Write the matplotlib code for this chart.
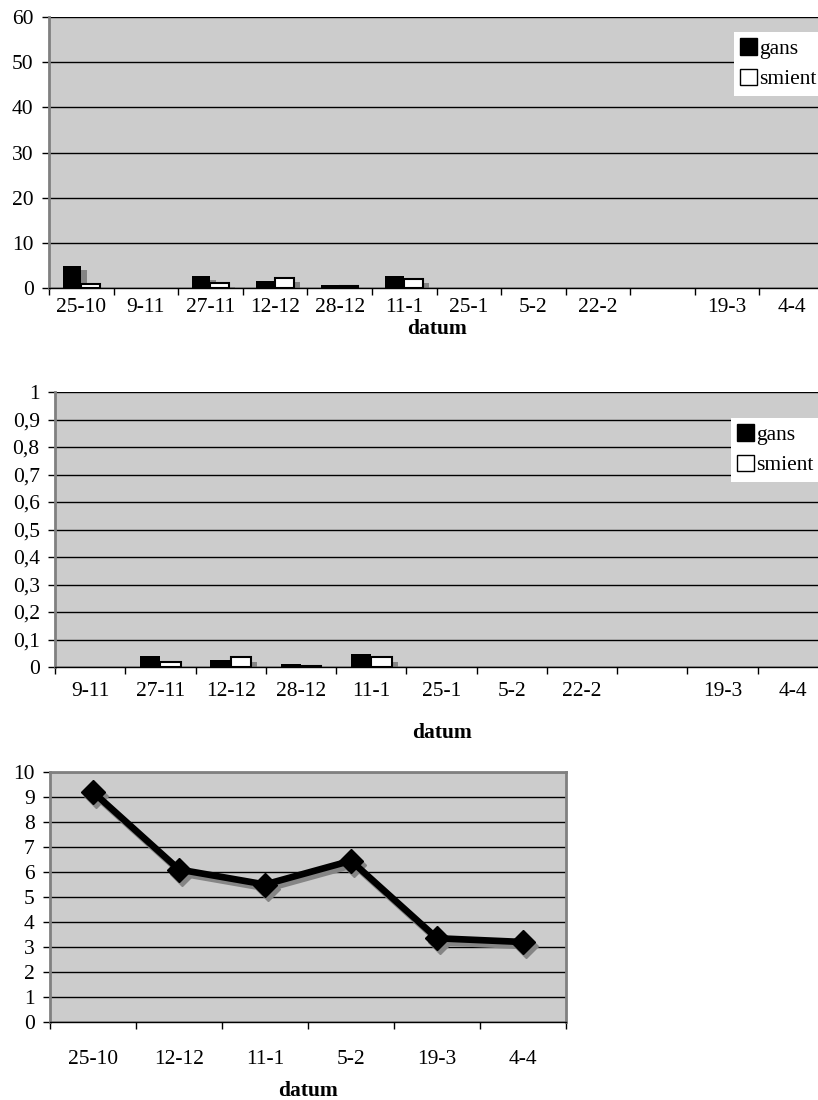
import numpy as np
import matplotlib
matplotlib.use("Agg")
import matplotlib.pyplot as plt
from matplotlib.patches import Patch
from matplotlib.transforms import ScaledTranslation

plt.rcParams["font.family"] = ["Liberation Serif", "DejaVu Serif"]

# counts per survey date
dates_counts = ["25-10", "9-11", "27-11", "12-12", "28-12", "11-1",
                "25-1", "5-2", "22-2", "", "19-3", "4-4"]
gans_counts = [4.9, 0, 2.7, 1.6, 0.7, 2.7, 0, 0, 0, 0, 0, 0]
smient_counts = [0.9, 0, 1.2, 2.3, 0.35, 2.1, 0, 0, 0, 0, 0, 0]

# relative values
dates_rel = ["9-11", "27-11", "12-12", "28-12", "11-1",
             "25-1", "5-2", "22-2", "", "19-3", "4-4"]
gans_rel = [0, 0.04, 0.025, 0.011, 0.047, 0, 0, 0, 0, 0, 0]
smient_rel = [0, 0.017, 0.036, 0.004, 0.036, 0, 0, 0, 0, 0, 0]

# line series
dates_line = ["25-10", "12-12", "11-1", "5-2", "19-3", "4-4"]
values_line = [9.2, 6.1, 5.5, 6.45, 3.35, 3.2]

BG = "#cccccc"
SHADOW = "#858585"
FS = 15.5

fig = plt.figure(figsize=(8.18, 11), dpi=100)


def shifted(ax, dx_px, dy_px):
    return ax.transData + ScaledTranslation(dx_px / 100, dy_px / 100, fig.dpi_scale_trans)


def style_axes(ax, labels, label_pad):
    n = len(labels)
    ax.set_facecolor(BG)
    ax.set_xlim(-0.5, n - 0.5)
    ax.set_xticks(np.arange(n + 1) - 0.5)
    ax.set_xticklabels([])
    ax.set_xticks(np.arange(n), minor=True)
    ax.set_xticklabels(labels, minor=True, fontsize=FS)
    ax.tick_params(axis="x", which="major", length=5, width=1, direction="out")
    ax.tick_params(axis="x", which="minor", length=0, pad=label_pad)
    ax.tick_params(axis="y", length=5, width=1, pad=6, labelsize=FS)
    ax.yaxis.grid(True, color="black", linewidth=1)
    ax.set_axisbelow(True)
    ax.spines["left"].set_color("#808080")
    ax.spines["left"].set_linewidth(2)
    ax.spines["bottom"].set_color("black")
    ax.spines["bottom"].set_linewidth(1)
    ax.spines["top"].set_visible(False)
    ax.spines["right"].set_visible(False)


def bar_pair(ax, gans, smient):
    x = np.arange(len(gans))
    w = 0.29
    for vals, off in ((gans, -w / 2), (smient, w / 2)):
        sh = ax.bar(x + off, vals, w, color=SHADOW, linewidth=0, zorder=2)
        for p in sh:
            p.set_transform(shifted(ax, 6, -4.5))
    ax.bar(x - w / 2, gans, w, color="black", linewidth=0, zorder=3)
    white = ax.bar(x + w / 2, smient, w, color="white", edgecolor="black",
                   linewidth=1.5, zorder=3)
    for p, v in zip(white, smient):
        if v == 0:
            p.set_visible(False)


def add_legend(ax, anchor):
    handles = [Patch(facecolor="black", edgecolor="black"),
               Patch(facecolor="white", edgecolor="black")]
    leg = ax.legend(handles, ["gans", "smient"], loc="upper left",
                    bbox_to_anchor=anchor, bbox_transform=fig.transFigure,
                    fontsize=15.5, handlelength=0.8, handleheight=0.8,
                    handletextpad=0.1, borderpad=0.3, labelspacing=0.45,
                    fancybox=False, framealpha=1)
    leg.get_frame().set_edgecolor("white")
    leg.get_frame().set_linewidth(0)


# top chart
ax1 = fig.add_axes([49 / 818, 1 - 288 / 1100, 775 / 818, 271 / 1100])
bar_pair(ax1, gans_counts, smient_counts)
style_axes(ax1, dates_counts, 7)
ax1.set_ylim(0, 60)
ax1.set_yticks(np.arange(0, 61, 10))
ax1.set_xlabel("datum", fontsize=15.5, fontweight="bold", labelpad=2)
add_legend(ax1, (723 / 818, 1 - 21 / 1100))

# middle chart
ax2 = fig.add_axes([55 / 818, 1 - 667 / 1100, 773 / 818, 275 / 1100])
bar_pair(ax2, gans_rel, smient_rel)
style_axes(ax2, dates_rel, 11)
ax2.set_ylim(0, 1)
ticks = np.round(np.arange(0, 1.01, 0.1), 1)
ax2.set_yticks(ticks)
ax2.set_yticklabels([f"{t:g}".replace(".", ",") for t in ticks])
ax2.set_xlabel("datum", fontsize=15.5, fontweight="bold", labelpad=16)
add_legend(ax2, (720 / 818, 1 - 407 / 1100))

# bottom chart
ax3 = fig.add_axes([50 / 818, 1 - 1022 / 1100, 516 / 818, 250 / 1100])
style_axes(ax3, dates_line, 20)
x = np.arange(len(values_line))
ax3.plot(x, values_line, color=SHADOW, linewidth=4.8, marker="D",
         markersize=12, transform=shifted(ax3, 3, -4), zorder=2)
ax3.plot(x, values_line, color="black", linewidth=4.8, marker="D",
         markersize=12, zorder=3)
ax3.set_ylim(0, 10)
ax3.set_yticks(np.arange(0, 11, 1))
for side in ("top", "right"):
    ax3.spines[side].set_visible(True)
    ax3.spines[side].set_color("#808080")
    ax3.spines[side].set_linewidth(2)
ax3.set_xlabel("datum", fontsize=15.5, fontweight="bold", labelpad=9)

fig.savefig("out.png", dpi=100)
